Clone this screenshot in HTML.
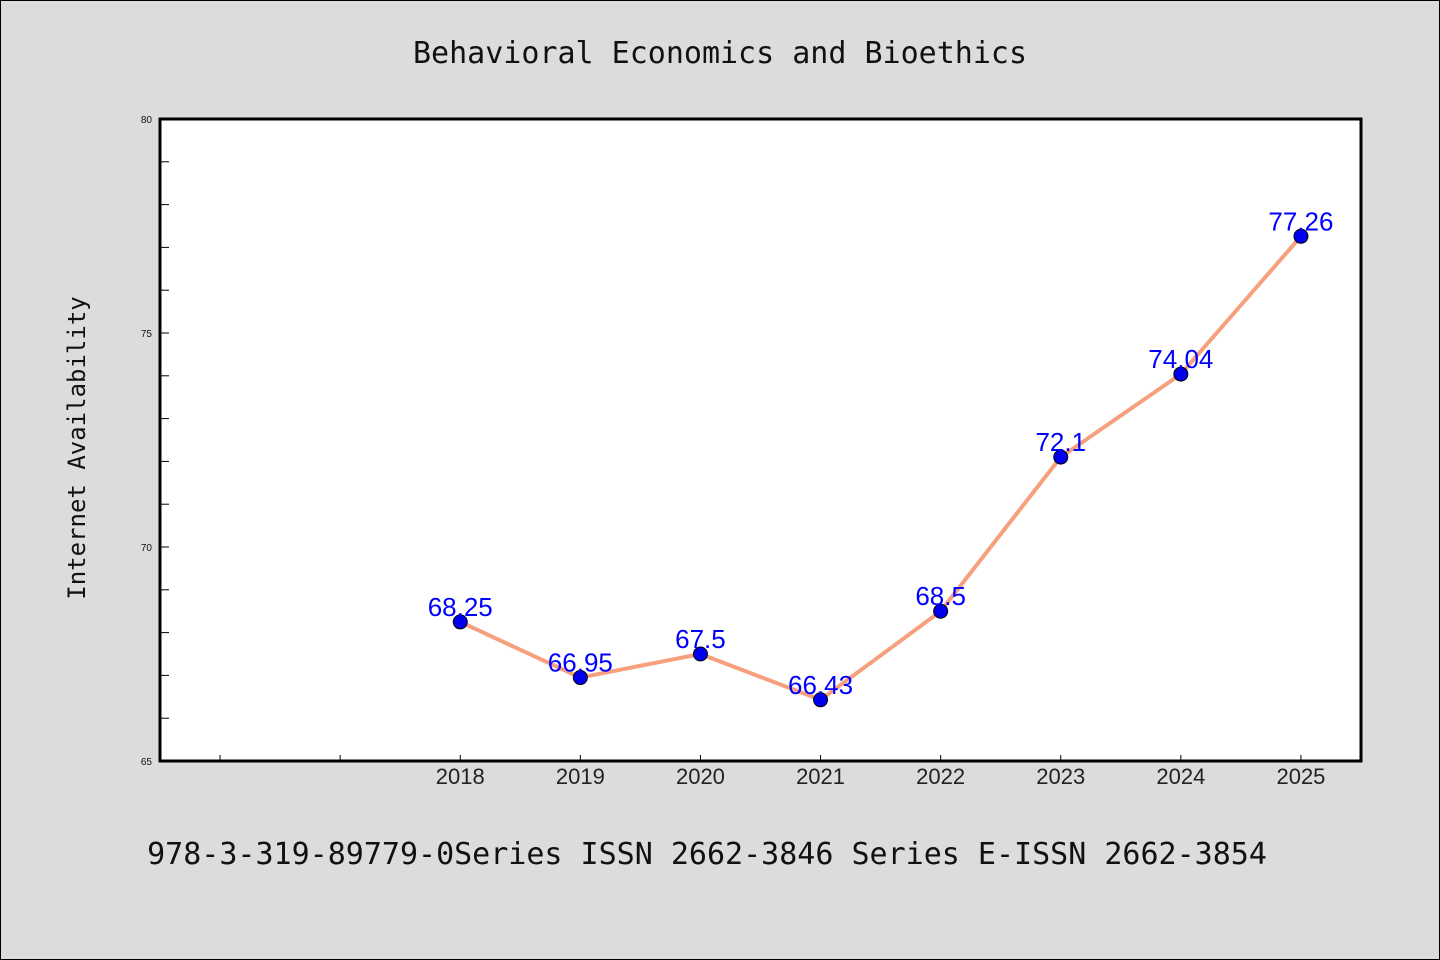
<!DOCTYPE html>
<html><head><meta charset="utf-8"><style>
body{margin:0;background:#dcdcdc;}
svg{display:block;font-family:"Liberation Sans","DejaVu Sans",sans-serif;}
</style></head><body>
<svg id="chart" width="1440" height="960">
<rect x="0.5" y="0.5" width="1439" height="959" fill="#dcdcdc" stroke="#000" stroke-width="1"/>
<text x="720" y="63" text-anchor="middle" font-size="30" font-family="DejaVu Sans Mono, monospace" fill="#111">Behavioral Economics and Bioethics</text>
<rect x="160" y="119" width="1201" height="642" fill="#fff"/>
<g id="yticks"></g><g id="xticks"></g>
<path id="line" fill="none" stroke="#f7a07e" stroke-width="4" stroke-linejoin="round"/>
<g id="points"></g><g id="labels"></g>
<rect x="160" y="119" width="1201" height="642" fill="none" stroke="#000" stroke-width="3"/>
<text transform="translate(85,448) rotate(-90)" text-anchor="middle" font-size="24" font-family="DejaVu Sans Mono, monospace" fill="#111">Internet Availability</text>
<text x="707" y="864" text-anchor="middle" font-size="30" font-family="DejaVu Sans Mono, monospace" fill="#111">978-3-319-89779-0Series ISSN 2662-3846 Series E-ISSN 2662-3854</text>
</svg>
<script>
const categories=[2018,2019,2020,2021,2022,2023,2024,2025];
const values=[68.25,66.95,67.5,66.43,68.5,72.1,74.04,77.26];
const valueLabels=["68.25","66.95","67.5","66.43","68.5","72.1","74.04","77.26"];
const yTickLabels=[65,70,75,80];
const xMin=2015.5,xMax=2025.5,yMin=65,yMax=80;
const L=160,R=1361,T=119,B=761;
const NS="http://www.w3.org/2000/svg";
function x(v){return L+(v-xMin)/(xMax-xMin)*(R-L);}
function y(v){return B-(v-yMin)/(yMax-yMin)*(B-T);}
function mk(t,a,p){const e=document.createElementNS(NS,t);for(const k in a)e.setAttribute(k,a[k]);p.appendChild(e);return e;}
const yt=document.getElementById('yticks');
for(let v=yMin;v<=yMax;v++){
  const l=mk('line',{x1:L,x2:L+9,y1:y(v),y2:y(v),stroke:'#000','stroke-width':1},yt);
  
  
}
yTickLabels.forEach(v=>{
  const t=mk('text',{x:152,y:y(v)+4,'text-anchor':'end','font-size':10,fill:'#111'},yt);
  t.textContent=v;
  
  
});
const xt=document.getElementById('xticks');
for(let c=2016;c<=2025;c++){
  const l=mk('line',{x1:x(c),x2:x(c),y1:B,y2:B-6,stroke:'#000','stroke-width':1},xt);
  
  
}
categories.forEach(c=>{
  const t=mk('text',{x:x(c),y:784,'text-anchor':'middle','font-size':22,fill:'#222'},xt);
  t.textContent=c;
  
  
});
document.getElementById('line').setAttribute('d',categories.map((c,i)=>(i?'L':'M')+x(c)+','+y(values[i])).join(''));
const pg=document.getElementById('points'),lg=document.getElementById('labels');
categories.forEach((c,i)=>{
  const p=mk('circle',{cx:x(c),cy:y(values[i]),r:7,fill:'#0000ee',stroke:'#000','stroke-width':1},pg);
  
  
  const t=mk('text',{x:x(c),y:y(values[i])-6,'text-anchor':'middle','font-size':26,fill:'#0000ff'},lg);
  t.textContent=valueLabels[i];
  
  
});
</script>
</body></html>
